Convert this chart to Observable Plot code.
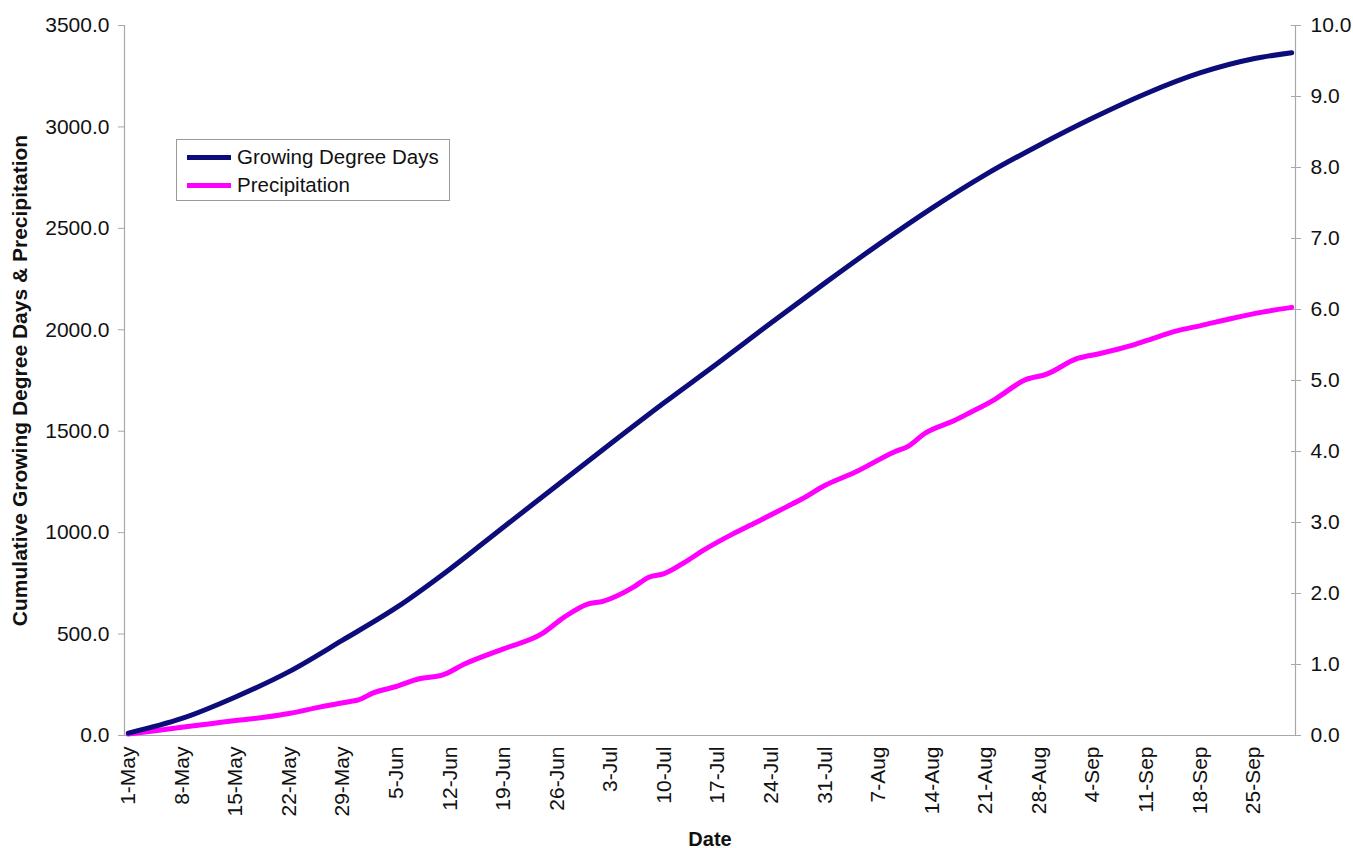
<!DOCTYPE html>
<html>
<head>
<meta charset="utf-8">
<script src="https://cdn.jsdelivr.net/npm/d3@7"></script>
<script src="https://cdn.jsdelivr.net/npm/@observablehq/plot@0.6"></script>
<style>
  body { margin: 0; background: #fff; }
  #wrap { position: relative; width: 1353px; height: 848px; font-family: "Liberation Sans", Arial, sans-serif; }
  #legend { position: absolute; left: 176px; top: 139px; width: 274px; height: 62px; border: 1px solid #9a9a9a; background: #fff; box-sizing: border-box; }
  .li { position: absolute; left: 10px; height: 24px; display: flex; align-items: center; font-size: 20.5px; color: #111; white-space: nowrap; }
  .sw { width: 44px; height: 5px; margin-right: 6px; }
</style>
</head>
<body>
<div id="wrap">
  <div id="chart"></div>
  <div id="legend">
    <div class="li" style="top:5px"><div class="sw" style="background:#0c0c7a"></div>Growing Degree Days</div>
    <div class="li" style="top:33px"><div class="sw" style="background:#ff00ff"></div>Precipitation</div>
  </div>
</div>
<script>
// Cumulative Growing Degree Days (left axis), read at weekly dates
const gddDates = ["05-01","05-08","05-15","05-22","05-29","06-05","06-12","06-19","06-26","07-03","07-10","07-17","07-24","07-31","08-07","08-14","08-21","08-28","09-04","09-11","09-18","09-25","09-30"];
const gddValues = [12, 84, 190, 315, 470, 630, 820, 1027, 1232, 1438, 1640, 1835, 2035, 2230, 2420, 2600, 2765, 2910, 3044, 3165, 3266, 3336, 3366];

// Cumulative precipitation (right axis, inches)
const precipDates = ["05-01","05-04","05-09","05-12","05-15","05-19","05-22","05-26","05-30","05-31","06-02","06-05","06-08","06-11","06-14","06-19","06-24","06-27","06-30","07-02","07-06","07-08","07-10","07-13","07-15","07-19","07-22","07-26","07-28","07-31","08-04","08-09","08-11","08-13","08-17","08-19","08-22","08-23","08-26","08-29","09-02","09-05","09-09","09-11","09-15","09-18","09-22","09-26","09-30"];
const precipValues = [0.02, 0.06, 0.13, 0.17, 0.21, 0.26, 0.31, 0.40, 0.48, 0.50, 0.60, 0.69, 0.80, 0.85, 1.01, 1.22, 1.43, 1.67, 1.85, 1.89, 2.09, 2.23, 2.28, 2.46, 2.60, 2.84, 3.00, 3.22, 3.33, 3.52, 3.71, 3.99, 4.08, 4.25, 4.44, 4.55, 4.72, 4.79, 5.00, 5.09, 5.31, 5.38, 5.49, 5.56, 5.70, 5.77, 5.87, 5.96, 6.03];

// Axis ticks
const xTickDates = ["05-01","05-08","05-15","05-22","05-29","06-05","06-12","06-19","06-26","07-03","07-10","07-17","07-24","07-31","08-07","08-14","08-21","08-28","09-04","09-11","09-18","09-25"];
const leftTicks = [0, 500, 1000, 1500, 2000, 2500, 3000, 3500];
const rightTicks = [0, 1, 2, 3, 4, 5, 6, 7, 8, 9, 10];
const yMax = 3500, rightMax = 10;
const ratio = yMax / rightMax;

const parse = s => new Date("2009-" + s + "T00:00:00Z");
const gdd = gddDates.map((d, i) => ({date: parse(d), value: gddValues[i]}));
const precip = precipDates.map((d, i) => ({date: parse(d), value: precipValues[i] * ratio}));
const half = 12 * 3600 * 1000;
const xDomain = [new Date(parse("05-01") - half), new Date(+parse("09-30") + half)];
const fmt = d3.utcFormat("%-d-%b");
const axisGray = "#a8a8a8";

const chart = Plot.plot({
  width: 1353,
  height: 848,
  marginLeft: 124,
  marginRight: 58,
  marginTop: 25,
  marginBottom: 113,
  style: {fontFamily: "'Liberation Sans', Arial, sans-serif", fontSize: "21px", color: "#111", background: "#fff"},
  x: {type: "utc", domain: xDomain},
  y: {domain: [0, yMax]},
  marks: [
    Plot.axisX(xTickDates.map(parse), {tickFormat: fmt, tickRotate: -90, tickSize: 0, tickPadding: 11, label: null, fontSize: 21}),
    Plot.ruleY([0], {stroke: axisGray, strokeWidth: 1.2}),
    Plot.axisY(leftTicks, {anchor: "left", tickFormat: d => d.toFixed(1), tickSize: 6, tickPadding: 9, stroke: axisGray, label: null, fontSize: 21}),
    Plot.ruleX([xDomain[0]], {stroke: axisGray, strokeWidth: 1.2}),
    Plot.axisY(rightTicks.map(v => v * ratio), {anchor: "right", tickFormat: () => "", tickSize: 10, dx: -5, stroke: axisGray, label: null}),
    Plot.axisY(rightTicks.map(v => v * ratio), {anchor: "right", tickFormat: d => (d / ratio).toFixed(1), tickSize: 0, tickPadding: 15, label: null, fontSize: 21}),
    Plot.ruleX([xDomain[1]], {stroke: axisGray, strokeWidth: 1.2}),
    Plot.line(precip, {x: "date", y: "value", stroke: "#ff00ff", strokeWidth: 5, curve: "monotone-x"}),
    Plot.line(gdd, {x: "date", y: "value", stroke: "#0c0c7a", strokeWidth: 5, curve: "monotone-x"}),
    Plot.text(["Cumulative Growing Degree Days & Precipitation"], {frameAnchor: "left", textAnchor: "middle", dx: -104, rotate: -90, fontWeight: "bold", fontSize: 21}),
    Plot.text(["Date"], {frameAnchor: "bottom", dy: 110, fontWeight: "bold", fontSize: 20})
  ]
});
document.getElementById("chart").appendChild(chart);
</script>
</body>
</html>
